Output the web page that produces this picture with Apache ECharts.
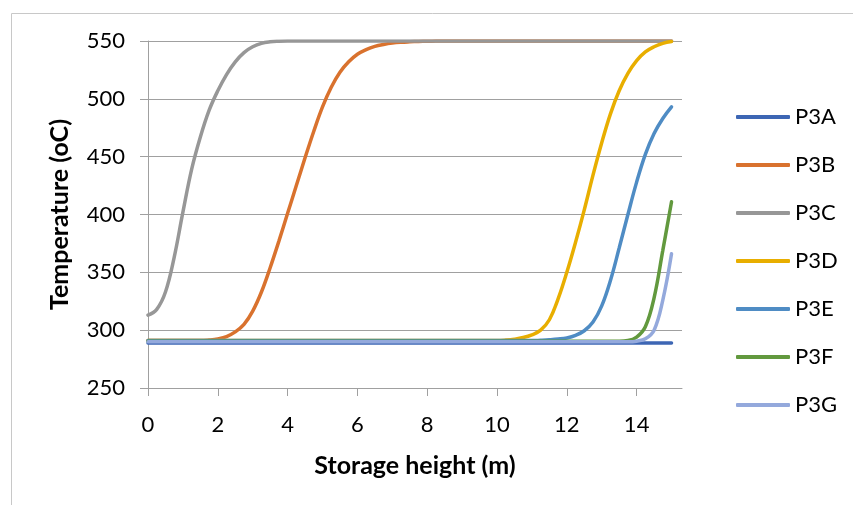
<!DOCTYPE html>
<html>
<head>
<meta charset="utf-8">
<script src="https://cdn.jsdelivr.net/npm/echarts@6/dist/echarts.min.js"></script>
<style>
  html, body { margin: 0; padding: 0; background: #fff; }
  #chart { width: 853px; height: 505px; }
</style>
</head>
<body>
<div id="chart"></div>
<script>
// storage height (m), every 0.25 m
const heights = [
  0, 0.25, 0.5, 0.75, 1, 1.25, 1.5, 1.75, 2, 2.25,
  2.5, 2.75, 3, 3.25, 3.5, 3.75, 4, 4.25, 4.5, 4.75,
  5, 5.25, 5.5, 5.75, 6, 6.25, 6.5, 6.75, 7, 7.25,
  7.5, 7.75, 8, 8.25, 8.5, 8.75, 9, 9.25, 9.5, 9.75,
  10, 10.25, 10.5, 10.75, 11, 11.25, 11.5, 11.75, 12, 12.25,
  12.5, 12.75, 13, 13.25, 13.5, 13.75, 14, 14.25, 14.5, 14.75,
  15
]

const seriesNames = ['P3A', 'P3B', 'P3C', 'P3D', 'P3E', 'P3F', 'P3G']

// temperature (oC)
const p3a = [
  289, 289, 289, 289, 289, 289, 289, 289, 289, 289,
  289, 289, 289, 289, 289, 289, 289, 289, 289, 289,
  289, 289, 289, 289, 289, 289, 289, 289, 289, 289,
  289, 289, 289, 289, 289, 289, 289, 289, 289, 289,
  289, 289, 289, 289, 289, 289, 289, 289, 289, 289,
  289, 289, 289, 289, 289, 289, 289, 289, 289, 289,
  289
]
const p3b = [
  291, 291, 291, 291, 291, 291, 291, 291.5, 292.5, 294.5,
  298.5, 305, 316.5, 333, 354, 377, 401, 425, 449, 472,
  493, 510, 523, 532, 538.5, 542.5, 545.3, 547, 548.2, 548.9,
  549.3, 549.6, 549.8, 549.9, 550, 550, 550, 550, 550, 550,
  550, 550, 550, 550, 550, 550, 550, 550, 550, 550,
  550, 550, 550, 550, 550, 550, 550, 550, 550, 550,
  550
]
const p3c = [
  313, 318, 333, 363, 402, 439, 467, 490, 507, 521,
  532, 540, 545, 548, 549.3, 549.8, 550, 550, 550, 550,
  550, 550, 550, 550, 550, 550, 550, 550, 550, 550,
  550, 550, 550, 550, 550, 550, 550, 550, 550, 550,
  550, 550, 550, 550, 550, 550, 550, 550, 550, 550,
  550, 550, 550, 550, 550, 550, 550, 550, 550, 550,
  550
]
const p3d = [
  291, 291, 291, 291, 291, 291, 291, 291, 291, 291,
  291, 291, 291, 291, 291, 291, 291, 291, 291, 291,
  291, 291, 291, 291, 291, 291, 291, 291, 291, 291,
  291, 291, 291, 291, 291, 291, 291, 291, 291, 291,
  291, 291.4, 292.2, 293.6, 296, 300, 309, 327, 350, 376,
  404, 434, 462, 487, 507, 522, 533, 540.5, 545, 548,
  549.5
]
const p3e = [
  291, 291, 291, 291, 291, 291, 291, 291, 291, 291,
  291, 291, 291, 291, 291, 291, 291, 291, 291, 291,
  291, 291, 291, 291, 291, 291, 291, 291, 291, 291,
  291, 291, 291, 291, 291, 291, 291, 291, 291, 291,
  291, 291, 291, 291, 291, 291.3, 291.7, 292.3, 293.3, 295.5,
  299.5, 307, 321, 343, 371, 400, 428, 452, 470, 483,
  493
]
const p3f = [
  290.5, 290.5, 290.5, 290.5, 290.5, 290.5, 290.5, 290.5, 290.5, 290.5,
  290.5, 290.5, 290.5, 290.5, 290.5, 290.5, 290.5, 290.5, 290.5, 290.5,
  290.5, 290.5, 290.5, 290.5, 290.5, 290.5, 290.5, 290.5, 290.5, 290.5,
  290.5, 290.5, 290.5, 290.5, 290.5, 290.5, 290.5, 290.5, 290.5, 290.5,
  290.5, 290.5, 290.5, 290.5, 290.5, 290.5, 290.5, 290.5, 290.5, 290.5,
  290.5, 290.5, 290.5, 290.5, 290.5, 291, 294, 303, 328, 369,
  411
]
const p3g = [
  290, 290, 290, 290, 290, 290, 290, 290, 290, 290,
  290, 290, 290, 290, 290, 290, 290, 290, 290, 290,
  290, 290, 290, 290, 290, 290, 290, 290, 290, 290,
  290, 290, 290, 290, 290, 290, 290, 290, 290, 290,
  290, 290, 290, 290, 290, 290, 290, 290, 290, 290,
  290, 290, 290, 290, 290, 290, 290.5, 292.5, 300, 326,
  366
]

const xTicks = [0, 2, 4, 6, 8, 10, 12, 14]

const allValues = [p3a, p3b, p3c, p3d, p3e, p3f, p3g]
const colors = ['#3d66b4', '#d9722e', '#979797', '#e8ae00', '#4f8cc4', '#62993e', '#94a9dc']

const font = 'Lato, "Open Sans", sans-serif'
const gridGray = '#a0a0a0'

let myChart = echarts.init(document.getElementById('chart'))

let option = {
  animation: false,
  color: colors,
  // outer chart frame
  graphic: [{
    type: 'rect',
    left: 9,
    top: 11,
    shape: { width: 900, height: 600 },
    style: { fill: 'none', stroke: '#c8c8c8', lineWidth: 1 },
    silent: true
  }],
  grid: { left: 148, right: 171, top: 41, bottom: 117 },
  legend: {
    orient: 'vertical',
    left: 731,
    top: 101,
    icon: 'roundRect',
    itemWidth: 54,
    itemHeight: 4,
    itemGap: 26,
    textStyle: { fontFamily: font, fontSize: 22, color: '#000', lineHeight: 22 },
    data: seriesNames
  },
  xAxis: {
    type: 'value',
    min: 0,
    max: 15.3,
    interval: 2,
    name: 'Storage height (m)',
    nameLocation: 'middle',
    nameGap: 65,
    nameTextStyle: { fontFamily: font, fontSize: 25, fontWeight: 'bold', color: '#000' },
    axisLine: { show: true, lineStyle: { color: gridGray, width: 1 } },
    axisTick: { show: true, length: 8, customValues: xTicks, lineStyle: { color: gridGray } },
    axisLabel: { margin: 26, customValues: xTicks, fontFamily: font, fontSize: 22, color: '#000' },
    splitLine: { show: false }
  },
  yAxis: {
    type: 'value',
    min: 250,
    max: 550,
    interval: 50,
    name: 'Temperature (oC)',
    nameLocation: 'middle',
    nameRotate: 90,
    nameGap: 76,
    nameTextStyle: { fontFamily: font, fontSize: 25, fontWeight: 'bold', color: '#000' },
    axisLine: { show: true, lineStyle: { color: gridGray, width: 1 } },
    axisTick: { show: true, length: 8, lineStyle: { color: gridGray } },
    axisLabel: { margin: 23, fontFamily: font, fontSize: 22, color: '#000' },
    splitLine: { show: true, lineStyle: { color: gridGray, width: 1 } }
  },
  series: seriesNames.map((name, k) => ({
    name: name,
    type: 'line',
    smooth: 0.4,
    symbol: 'none',
    lineStyle: { width: 3.5, cap: 'round' },
    data: heights.map((h, i) => [h, allValues[k][i]])
  }))
}

myChart.setOption(option)
</script>
</body>
</html>
